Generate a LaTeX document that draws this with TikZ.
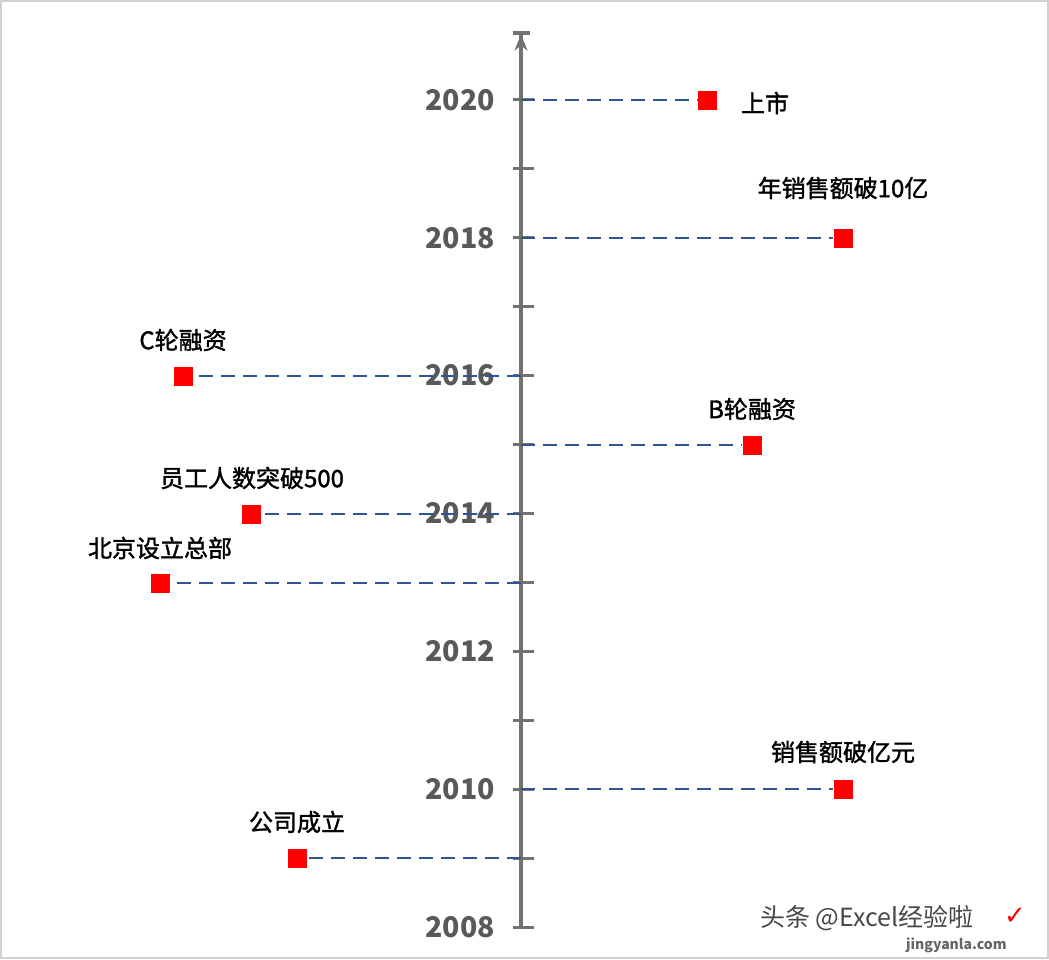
\documentclass[tikz,border=0pt]{standalone}
\usepackage{fontspec}
\setmainfont{Noto Sans CJK SC}
\newfontfamily\labfont[FakeBold=1.5]{Noto Sans CJK SC}
\newfontfamily\symfont{DejaVu Sans}
\usetikzlibrary{arrows.meta}
\definecolor{axisgray}{HTML}{767171}
\definecolor{yeargray}{HTML}{595959}
\definecolor{dashblue}{HTML}{2F5597}
\definecolor{mred}{HTML}{FF0000}
\tikzset{
  marker/.style={fill=mred, minimum size=19pt, inner sep=0pt},
  dashline/.style={dashblue, line width=2.3pt, dash pattern=on 14pt off 8pt},
  lab/.style={font=\labfont\fontsize{24}{27}\selectfont, text=black, inner sep=0pt},
  yearlab/.style={font=\fontsize{28.5}{32}\selectfont\bfseries, text=yeargray, anchor=east, inner sep=0pt},
  tick/.style={axisgray, line width=3pt},
}
\begin{document}
\begin{tikzpicture}[x=1pt,y=-1pt]
\useasboundingbox (0,0) rectangle (1049,959);
\draw[black!18, line width=1.5pt] (1,1) rectangle (1048,958);
% axis
\coordinate (bot) at (521,927);
\coordinate (top) at (521,31);
\draw[axisgray, line width=4pt, -{Stealth[length=16pt,width=13pt,inset=5pt]Bar[width=17pt,line width=3.5pt]}] (bot) -- (top);
\foreach \i in {0,...,12}{
  \draw[tick] (513,{927-68.92*\i}) -- (534,{927-68.92*\i});
}
\foreach \i/\yr in {0/2008,2/2010,4/2012,6/2014,8/2016,10/2018,12/2020}{
  \node[yearlab] (y\yr) at (495,{927-68.92*\i}) {\yr};
}
% axis anchor coordinates
\coordinate (a2020) at (521,100);
\coordinate (a2018) at (521,238);
\coordinate (a2016) at (521,376);
\coordinate (a2015) at (521,445);
\coordinate (a2014) at (521,514);
\coordinate (a2013) at (521,583);
\coordinate (a2010) at (521,789);
\coordinate (a2009) at (521,858);
% markers
\node[marker] (m2020) at (707,100) {};
\node[marker] (m2018) at (843,238) {};
\node[marker] (m2016) at (183,376) {};
\node[marker] (m2015) at (752,445) {};
\node[marker] (m2014) at (251,514) {};
\node[marker] (m2013) at (160,583) {};
\node[marker] (m2010) at (843,789) {};
\node[marker] (m2009) at (297,858) {};
% connectors
\foreach \k in {2020,2018,2016,2015,2014,2013,2010,2009}{
  \draw[dashline] (a\k) -- (m\k);
}
% labels
\node[lab] (l2020) at (765,103) {上市};
\node[lab] (l2018) at (843,188) {年销售额破10亿};
\node[lab] (l2016) at (183,340) {C轮融资};
\node[lab] (l2015) at (752,409) {B轮融资};
\node[lab] (l2014) at (252,478) {员工人数突破500};
\node[lab] (l2013) at (160,548) {北京设立总部};
\node[lab] (l2010) at (843,752) {销售额破亿元};
\node[lab] (l2009) at (297,822) {公司成立};
% watermark
\node[font=\fontsize{25}{28}\selectfont, text=black!72, anchor=west, inner sep=0pt] (wm) at (760,918) {头条 @Excel经验啦};
\node[font=\symfont\fontsize{26}{28}\selectfont\bfseries, text=mred, inner sep=0pt] (wmc) at (1015,916) {✓};
\node[font=\fontsize{14}{16}\selectfont\bfseries, text=black!60, anchor=west, inner sep=0pt] (wmu) at (906,945) {jingyanla.com};
\end{tikzpicture}
\end{document}
